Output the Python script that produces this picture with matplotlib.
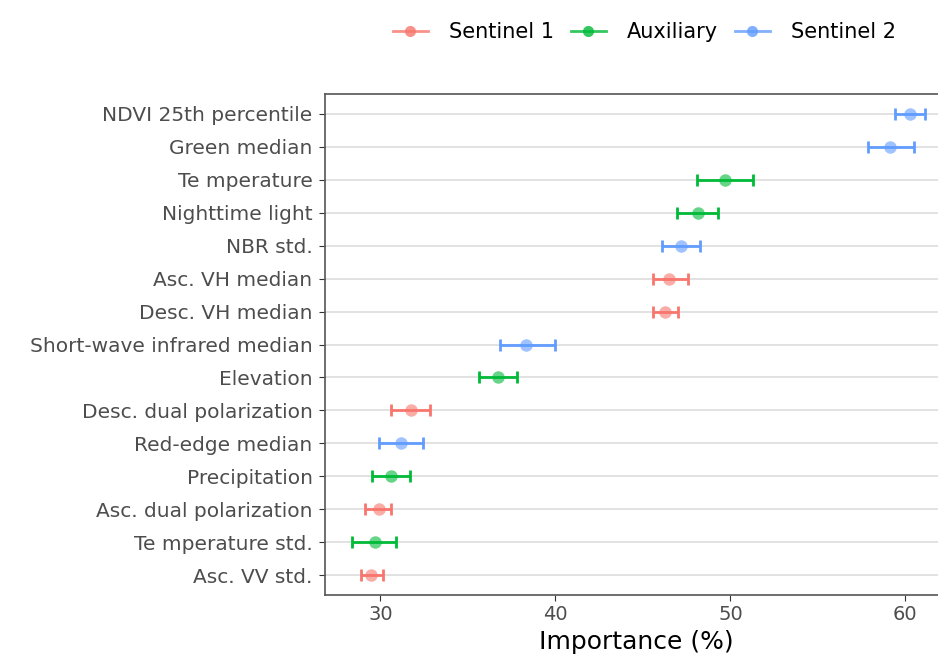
import matplotlib.pyplot as plt
import numpy as np
from matplotlib.lines import Line2D

# data (top to bottom)
features = ["NDVI 25th percentile", "Green median", "Te mperature", "Nighttime light",
            "NBR std.", "Asc. VH median", "Desc. VH median", "Short-wave infrared median",
            "Elevation", "Desc. dual polarization", "Red-edge median", "Precipitation",
            "Asc. dual polarization", "Te mperature std.", "Asc. VV std."]
source = ["Sentinel 2", "Sentinel 2", "Auxiliary", "Auxiliary", "Sentinel 2",
          "Sentinel 1", "Sentinel 1", "Sentinel 2", "Auxiliary", "Sentinel 1",
          "Sentinel 2", "Auxiliary", "Sentinel 1", "Auxiliary", "Sentinel 1"]
importance = [60.27, 59.14, 49.68, 48.14, 47.19, 46.51, 46.28, 38.34, 36.71, 31.72,
              31.16, 30.59, 29.89, 29.66, 29.46]
lower = [59.39, 57.85, 48.10, 46.96, 46.10, 45.60, 45.60, 36.83, 35.62, 30.63,
         29.91, 29.50, 29.12, 28.37, 28.87]
upper = [61.13, 60.48, 51.27, 49.30, 48.28, 47.57, 47.01, 39.98, 37.78, 32.83,
         32.45, 31.66, 30.63, 30.86, 30.14]

colors = {"Sentinel 1": "#F8766D", "Auxiliary": "#00BA38", "Sentinel 2": "#619CFF"}
legend_order = ["Sentinel 1", "Auxiliary", "Sentinel 2"]

plt.rcParams['font.family'] = ['DejaVu Sans']

fig = plt.figure(figsize=(9.38, 6.59), dpi=100)
ax = fig.add_axes([325/938, 1-595/659, 1.01-325/938, (595-94)/659])

n = len(features)
ypos = np.arange(n)[::-1] + 1

for i in range(n):
    c = colors[source[i]]
    ax.errorbar(importance[i], ypos[i],
                xerr=[[importance[i]-lower[i]], [upper[i]-importance[i]]],
                fmt='none', ecolor=c, elinewidth=2, capsize=4, capthick=2, zorder=3)
    ax.plot(importance[i], ypos[i], 'o', color=c, alpha=0.6, markersize=9,
            markeredgewidth=0, zorder=4)

ax.set_yticks(ypos)
ax.set_yticklabels(features, fontsize=14.5, color="#4D4D4D")
ax.set_xticks([30, 40, 50, 60])
ax.tick_params(axis='x', labelsize=14, labelcolor="#4D4D4D", color="#333333", length=4)
ax.tick_params(axis='y', color="#333333", length=4, pad=5)
ax.set_xlim(26.83, 62.4)
ax.set_ylim(0.4, n+0.6)
ax.grid(axis='y', color="#DDDDDD", linewidth=1.2, zorder=0)
ax.set_axisbelow(True)
for s in ax.spines.values():
    s.set_color("#555555")
    s.set_linewidth(1.2)
ax.set_xlabel("Importance (%)", fontsize=18, color="black", labelpad=4)

handles = [Line2D([0], [0], color=colors[k], lw=2, marker='o', markersize=8,
                  markeredgewidth=0, alpha=0.8) for k in legend_order]
fig.legend(handles, legend_order, loc='upper right', bbox_to_anchor=(0.975, 0.995),
           ncol=3, frameon=False, fontsize=15, handlelength=1.7, columnspacing=0.8,
           handletextpad=1.0)

plt.savefig("out.png", dpi=100)
